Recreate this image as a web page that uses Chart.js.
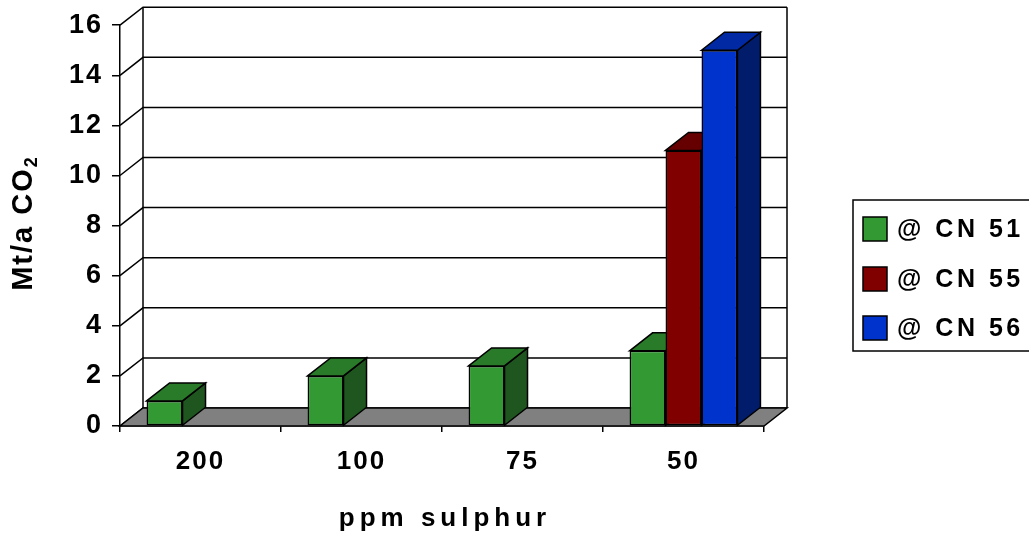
<!DOCTYPE html>
<html>
<head>
<meta charset="utf-8">
<script src="https://cdn.jsdelivr.net/npm/chart.js@4/dist/chart.umd.min.js"></script>
<style>
  html, body { margin: 0; padding: 0; background: #fff; }
  #wrap { width: 1029px; height: 535px; }
</style>
</head>
<body>
<div id="wrap"><canvas id="c" width="1029" height="535"></canvas></div>
<script>
// Sulphur level categories (ppm) and CO2 emissions (Mt/a) per cetane number
const categories = ['200', '100', '75', '50'];
const seriesNames = ['@ CN 51', '@ CN 55', '@ CN 56'];
const cn51 = [1.0, 2.0, 2.4, 3.0];
const cn55 = [null, null, null, 11.0];
const cn56 = [null, null, null, 15.0];
const yTickValues = [0, 2, 4, 6, 8, 10, 12, 14, 16];

const FONT = '"Liberation Sans", Arial, sans-serif';
const DX = 23, DY = -18;   // depth offset of the 3D box

function poly(ctx, pts, fill) {
  ctx.beginPath();
  ctx.moveTo(pts[0][0], pts[0][1]);
  for (let k = 1; k < pts.length; k++) ctx.lineTo(pts[k][0], pts[k][1]);
  ctx.closePath();
  ctx.fillStyle = fill;
  ctx.fill();
  ctx.stroke();
}

// Walls, floor and the top/side faces of each column
const depthPlugin = {
  id: 'depth',
  beforeDraw(chart) {
    chart.ctx.letterSpacing = '2px';
  },
  beforeDatasetsDraw(chart) {
    const { ctx, chartArea: a, scales: { y } } = chart;
    ctx.save();
    ctx.letterSpacing = '0px';
    ctx.strokeStyle = '#000';
    ctx.lineWidth = 1.5;
    ctx.lineJoin = 'miter';
    y.ticks.forEach(t => {
      const py = y.getPixelForValue(t.value);
      ctx.beginPath();
      ctx.moveTo(a.left, py);
      ctx.lineTo(a.left + DX, py + DY);
      ctx.lineTo(a.right + DX, py + DY);
      ctx.stroke();
    });
    ctx.beginPath();
    ctx.moveTo(a.left + DX, a.top + DY);
    ctx.lineTo(a.left + DX, a.bottom + DY);
    ctx.moveTo(a.right + DX, a.top + DY);
    ctx.lineTo(a.right + DX, a.bottom + DY);
    ctx.stroke();
    poly(ctx, [[a.left, a.bottom], [a.right, a.bottom], [a.right + DX, a.bottom + DY], [a.left + DX, a.bottom + DY]], '#808080');

    chart.data.datasets.forEach((ds, i) => {
      const meta = chart.getDatasetMeta(i);
      meta.data.forEach((bar, j) => {
        if (ds.data[j] == null) return;
        const p = bar.getProps(['x', 'y', 'base', 'width'], true);
        const l = p.x - p.width / 2, r = p.x + p.width / 2;
        poly(ctx, [[r, p.y], [r + DX, p.y + DY], [r + DX, p.base + DY], [r, p.base]], ds.sideColor);
        poly(ctx, [[l, p.y], [l + DX, p.y + DY], [r + DX, p.y + DY], [r, p.y]], ds.topColor);
      });
    });
    ctx.restore();
  },
  afterDraw(chart) {
    const { ctx, chartArea: a } = chart;
    ctx.save();
    ctx.fillStyle = '#000';

    // x axis title
    ctx.font = 'bold 26px ' + FONT;
    ctx.letterSpacing = '5px';
    ctx.textAlign = 'center';
    ctx.textBaseline = 'middle';
    ctx.fillText('ppm sulphur', (a.left + a.right) / 2 + 3, 519);

    // y axis title with subscript
    ctx.save();
    ctx.translate(22, 223);
    ctx.rotate(-Math.PI / 2);
    ctx.letterSpacing = '2px';
    ctx.font = 'bold 29px ' + FONT;
    ctx.textAlign = 'left';
    ctx.textBaseline = 'alphabetic';
    const main = 'Mt/a CO';
    const w1 = ctx.measureText(main).width;
    ctx.font = 'bold 18px ' + FONT;
    const w2 = ctx.measureText('2').width;
    const sx = -(w1 + w2) / 2;
    ctx.font = 'bold 29px ' + FONT;
    ctx.fillText(main, sx, 10);
    ctx.font = 'bold 18px ' + FONT;
    ctx.fillText('2', sx + w1, 15);
    ctx.restore();

    // legend
    ctx.letterSpacing = '0px';
    ctx.strokeStyle = '#000';
    ctx.lineWidth = 1.5;
    ctx.strokeRect(853, 200, 200, 151);
    const rows = [229, 279, 328];
    ctx.font = 'bold 25px ' + FONT;
    ctx.textAlign = 'left';
    ctx.textBaseline = 'middle';
    chart.data.datasets.forEach((ds, i) => {
      const cy = rows[i];
      ctx.fillStyle = ds.backgroundColor;
      ctx.fillRect(863, cy - 12, 24, 24);
      ctx.strokeRect(863, cy - 12, 24, 24);
      ctx.fillStyle = '#000';
      ctx.letterSpacing = '3.5px';
      ctx.fillText(ds.label, 897, cy + 1);
      ctx.letterSpacing = '0px';
    });
    ctx.restore();
  }
};

new Chart(document.getElementById('c'), {
  type: 'bar',
  data: {
    labels: categories,
    datasets: [
      { label: seriesNames[0], data: cn51, backgroundColor: '#339933', topColor: '#297a29', sideColor: '#1f561f' },
      { label: seriesNames[1], data: cn55, backgroundColor: '#800000', topColor: '#660000', sideColor: '#4a0000' },
      { label: seriesNames[2], data: cn56, backgroundColor: '#0033cc', topColor: '#0029a3', sideColor: '#001c6b' }
    ].map(d => Object.assign(d, { borderColor: '#000', borderWidth: 1.5, borderSkipped: false }))
  },
  options: {
    responsive: false,
    animation: false,
    devicePixelRatio: 1,
    categoryPercentage: 0.67,
    barPercentage: 1,
    layout: { padding: { left: 0, top: 24, right: 265, bottom: 0 } },
    plugins: { legend: { display: false }, tooltip: { enabled: false } },
    scales: {
      x: {
        grid: { offset: true, drawOnChartArea: false, drawTicks: true, tickLength: 6, color: '#000', lineWidth: 1.5 },
        border: { color: '#000', width: 1.5 },
        ticks: { color: '#000', font: { family: FONT, size: 26, weight: 'bold' }, padding: 14, maxRotation: 0 },
        afterFit(scale) { scale.height = 109; }
      },
      y: {
        min: 0,
        max: 16,
        afterBuildTicks(scale) { scale.ticks = yTickValues.map(v => ({ value: v })); },
        grid: { drawOnChartArea: false, drawTicks: true, tickLength: 8, color: '#000', lineWidth: 1.5 },
        border: { color: '#000', width: 1.5 },
        ticks: { color: '#000', font: { family: FONT, size: 27, weight: 'bold' }, padding: 9 },
        afterFit(scale) { scale.width = 120; }
      }
    }
  },
  plugins: [depthPlugin]
});
</script>
</body>
</html>
